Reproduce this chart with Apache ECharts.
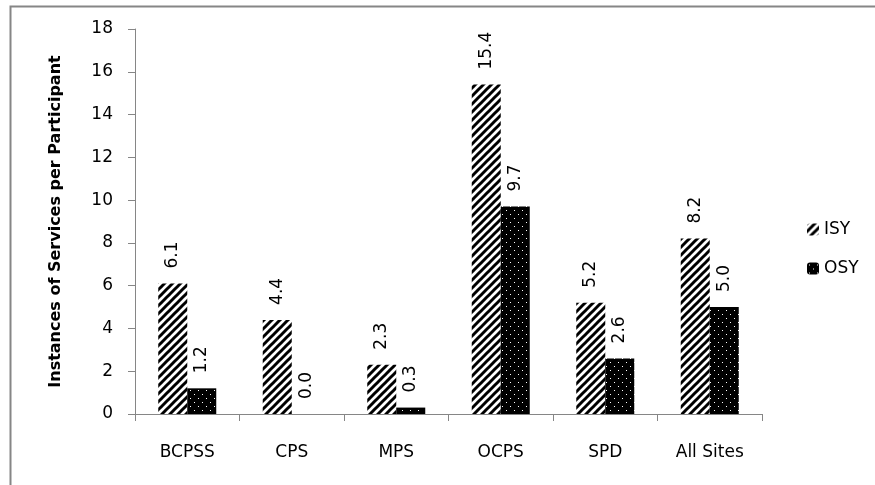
<!DOCTYPE html>
<html>
<head>
<meta charset="utf-8">
<script src="https://cdn.jsdelivr.net/npm/echarts@6/dist/echarts.min.js"></script>
<style>html,body{margin:0;padding:0;background:#fff;}#c{width:875px;height:485px;}</style>
</head>
<body>
<div id="c"></div>
<script>
const categories = ['BCPSS', 'CPS', 'MPS', 'OCPS', 'SPD', 'All Sites'];
const isyValues = [6.1, 4.4, 2.3, 15.4, 5.2, 8.2];
const osyValues = [1.2, 0.0, 0.3, 9.7, 2.6, 5.0];
const seriesNames = ['ISY', 'OSY'];
const yAxisTitle = 'Instances of Services per Participant';

function hatchTile() {
  const s = 8;
  const c = document.createElement('canvas');
  c.width = s; c.height = s;
  const g = c.getContext('2d');
  g.fillStyle = '#fff'; g.fillRect(0, 0, s, s);
  g.strokeStyle = '#000'; g.lineWidth = 3; g.lineCap = 'square';
  [[0, s, s, 0], [-s, s, s, -s], [0, 2 * s, 2 * s, 0]].forEach(function (l) {
    g.beginPath(); g.moveTo(l[0], l[1]); g.lineTo(l[2], l[3]); g.stroke();
  });
  return c;
}
function dotTile() {
  const s = 8;
  const c = document.createElement('canvas');
  c.width = s; c.height = s;
  const g = c.getContext('2d');
  g.fillStyle = '#000'; g.fillRect(0, 0, s, s);
  g.fillStyle = '#fff';
  g.fillRect(2, 2, 1, 1);
  g.fillRect(6, 6, 1, 1);
  return c;
}
const hatch = { image: hatchTile(), repeat: 'repeat' };
const dots = { image: dotTile(), repeat: 'repeat' };

const font = 'DejaVu Sans';
const labelCfg = {
  show: true, position: 'top', rotate: 90, align: 'left', verticalAlign: 'middle',
  distance: 15, color: '#000', fontFamily: font, fontSize: 17,
  formatter: function (p) { return p.value.toFixed(1); }
};

const chart = echarts.init(document.getElementById('c'), null, { renderer: 'canvas' });
chart.setOption({
  animation: false,
  backgroundColor: '#fff',
  graphic: [{
    type: 'rect', left: 8, top: 4, silent: true,
    shape: { x: 0, y: 0, width: 900, height: 520 },
    style: { fill: 'none', stroke: '#868686', lineWidth: 2 }
  }],
  grid: { left: 135, right: 113, top: 29, bottom: 71 },
  legend: {
    orient: 'vertical', left: 802, top: 216,
    itemWidth: 12, itemHeight: 12, itemGap: 22,
    data: seriesNames,
    textStyle: { fontFamily: font, fontSize: 17, color: '#000' }
  },
  xAxis: {
    type: 'category', data: categories,
    axisLine: { lineStyle: { color: '#868686', width: 1 } },
    axisTick: { show: true, length: 7, lineStyle: { color: '#868686' } },
    axisLabel: { color: '#000', fontFamily: font, fontSize: 17, margin: 30 }
  },
  yAxis: {
    type: 'value', min: 0, max: 18, interval: 2,
    name: yAxisTitle, nameLocation: 'middle', nameGap: 71, nameRotate: 90,
    nameTextStyle: { fontFamily: font, fontWeight: 'bold', fontSize: 16, color: '#000' },
    axisLine: { show: true, lineStyle: { color: '#868686', width: 1 } },
    axisTick: { show: true, length: 7, lineStyle: { color: '#868686' } },
    axisLabel: { color: '#000', fontFamily: font, fontSize: 17, margin: 22 },
    splitLine: { show: false }
  },
  series: [
    { name: seriesNames[0], type: 'bar', data: isyValues, barWidth: 29, barGap: '0%',
      itemStyle: { color: hatch }, label: labelCfg },
    { name: seriesNames[1], type: 'bar', data: osyValues, barWidth: 29, barGap: '0%',
      itemStyle: { color: dots }, label: labelCfg }
  ]
});
</script>
</body>
</html>
